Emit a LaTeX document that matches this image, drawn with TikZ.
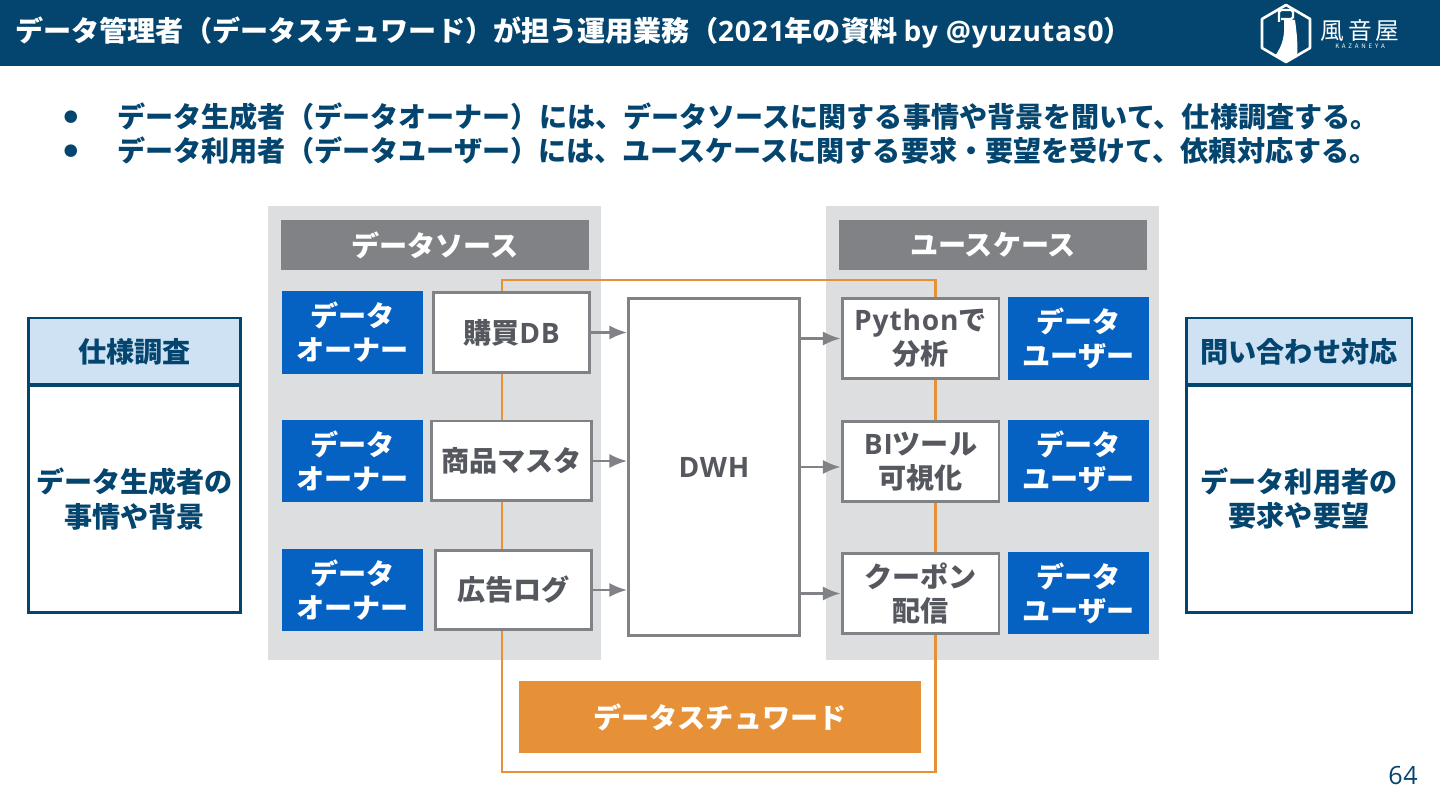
\documentclass[tikz,border=0pt]{standalone}
\usepackage{fontspec}
\setmainfont{Noto Sans CJK JP}
\newfontfamily\latinfont{Open Sans}[LetterSpace=3]
\newcommand{\lat}[1]{{\latinfont #1}}
\usepackage{xcolor}
\usetikzlibrary{arrows.meta}
\definecolor{headblue}{HTML}{03456E}
\definecolor{boxblue}{HTML}{0561C2}
\definecolor{panelgray}{HTML}{DDDEE0}
\definecolor{linegray}{HTML}{808285}
\definecolor{textgray}{HTML}{55585E}
\definecolor{stewardorange}{HTML}{E69138}
\definecolor{paleblue}{HTML}{CFE2F3}
\tikzset{
	panelbox/.style={fill=panelgray, draw=none, minimum width=6.66cm, minimum height=9.08cm},
	headbox/.style={fill=linegray, text=white, minimum width=6.16cm, minimum height=1cm, font=\fontsize{16}{19}\selectfont\bfseries},
	peoplebox/.style={fill=boxblue, text=white, align=center, minimum width=2.82cm, minimum height=1.65cm, font=\fontsize{16}{19.4}\selectfont\bfseries},
	itembox/.style={draw=linegray, line width=1.7pt, fill=white, text=textgray, align=center, minimum height=1.6cm, inner sep=0pt, font=\fontsize{16}{19.4}\selectfont\bfseries},
	sidehead/.style={draw=headblue, line width=1.7pt, fill=paleblue, text=headblue, minimum height=1.34cm, font=\fontsize{16}{19}\selectfont\bfseries},
	sidebody/.style={draw=headblue, line width=1.7pt, fill=white, text=headblue, align=center, minimum height=4.56cm, font=\fontsize{16}{19.4}\selectfont\bfseries},
	flowline/.style={->, draw=linegray, line width=1.3pt},
}

\begin{document}
\begin{tikzpicture}[>={Latex[length=10pt,width=8pt]}, x=0.02cm, y=-0.02cm]
	\useasboundingbox (0,0) rectangle (1440,810);

	% Title bar
	\fill[headblue] (0,0) rectangle (1440,66);
	\node[right, text=white, font=\fontsize{16}{18}\selectfont\bfseries, inner sep=0pt] (title) at (15,33) {データ管理者（データスチュワード）が担う運用業務（\lat{2021}年の資料 \lat{by @yuzutas0}）};

	% Logo
	\draw[white, line width=1.5pt, line join=round] (1286,5) -- (1310,19) -- (1310,48) -- (1286,62) -- (1262,48) -- (1262,19) -- cycle;
	\draw[white, line width=1.4pt, rounded corners=1pt] (1279,22) -- (1279,10) -- (1293,10) -- (1293,19) -- (1281,19);
	\fill[white] (1284,20) -- (1295,20) .. controls (1297,35) and (1298,45) .. (1297,57) -- (1286,62) -- (1275,56) .. controls (1283,45) and (1285,35) .. cycle;
	\node[text=white, font=\fontsize{13.5}{16}\selectfont] (logoname) at (1360,31) {風\,音\,屋};
	\node[text=white, font=\fontsize{3.5}{4}\selectfont] (logosub) at (1360,46) {K\ \ A\ \ Z\ \ A\ \ N\ \ E\ \ Y\ \ A};

	% Bullets
	\node[text=headblue, font=\fontsize{8}{10}\selectfont] (bulleta) at (71,117) {●};
	\node[text=headblue, font=\fontsize{8}{10}\selectfont] (bulletb) at (71,151) {●};
	\node[right, text=headblue, inner sep=0pt, font=\fontsize{16}{19}\selectfont\bfseries] (linea) at (117,117) {データ生成者（データオーナー）には、データソースに関する事情や背景を聞いて、仕様調査する。};
	\node[right, text=headblue, inner sep=0pt, font=\fontsize{16}{19}\selectfont\bfseries] (lineb) at (117,151) {データ利用者（データユーザー）には、ユースケースに関する要求・要望を受けて、依頼対応する。};

	% Gray panels
	\node[panelbox] (srcpanel) at (434.5,433) {};
	\node[panelbox] (usepanel) at (992.5,433) {};
	\node[headbox] (srchead) at (435,245) {データソース};
	\node[headbox] (usehead) at (993,245) {ユースケース};

	% Frame of the data steward
	\coordinate (framea) at (502,772);
	\coordinate (frameb) at (502,280);
	\coordinate (framec) at (935,280);
	\coordinate (framed) at (935,772);
	\draw[stewardorange, line width=1.7pt] (framea) -- (frameb) -- (framec) -- (framed) -- cycle;
	\node[fill=stewardorange, text=white, minimum width=8.04cm, minimum height=1.44cm, font=\fontsize{16}{19}\selectfont\bfseries] (steward) at (720,717) {データスチュワード};

	% Data sources
	\node[peoplebox] (ownera) at (352.5,332.5) {データ\\オーナー};
	\node[peoplebox] (ownerb) at (352.5,461) {データ\\オーナー};
	\node[peoplebox] (ownerc) at (352.5,590) {データ\\オーナー};
	\node[itembox, minimum width=3.14cm] (srca) at (511.5,332.5) {購買\lat{DB}};
	\node[itembox, minimum width=3.22cm] (srcb) at (511.5,461) {商品マスタ};
	\node[itembox, minimum width=3.14cm] (srcc) at (513.5,590) {広告ログ};

	% DWH
	\node[itembox, minimum width=3.42cm, minimum height=6.76cm] (dwh) at (714,467) {\lat{DWH}};

	% Use cases
	\node[itembox, minimum width=3.14cm] (usea) at (920.5,338.5) {\lat{Python}で\\分析};
	\node[itembox, minimum width=3.14cm] (useb) at (920.5,461.5) {\lat{BI}ツール\\可視化};
	\node[itembox, minimum width=3.14cm] (usec) at (920.5,593.5) {クーポン\\配信};
	\node[peoplebox] (usera) at (1078.5,338.5) {データ\\ユーザー};
	\node[peoplebox] (userb) at (1078.5,461) {データ\\ユーザー};
	\node[peoplebox] (userc) at (1078.5,593) {データ\\ユーザー};

	% Arrows
	\draw[flowline] (srca.east) -- (srca.east -| dwh.west);
	\draw[flowline] (srcb.east) -- (srcb.east -| dwh.west);
	\draw[flowline] (srcc.east) -- (srcc.east -| dwh.west);
	\draw[flowline] (usea.west -| dwh.east) -- (usea.west);
	\draw[flowline] (dwh.east) -- (dwh.east -| useb.west);
	\draw[flowline] (usec.west -| dwh.east) -- (usec.west);

	% Side boxes
	\node[sidehead, minimum width=4.26cm] (spechead) at (134.5,351.5) {仕様調査};
	\node[sidebody, minimum width=4.26cm] (specbody) at (134.5,499) {データ生成者の\\事情や背景};
	\node[sidehead, minimum width=4.52cm] (askhead) at (1299,351.5) {問い合わせ対応};
	\node[sidebody, minimum width=4.52cm] (askbody) at (1299,499) {データ利用者の\\要求や要望};

	% Page number
	\node[text=headblue, font=\fontsize{14.3}{17}\selectfont] (pagenum) at (1403,776) {\lat{64}};
\end{tikzpicture}
\end{document}
